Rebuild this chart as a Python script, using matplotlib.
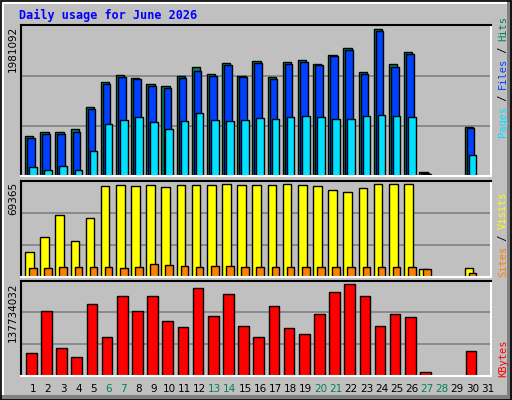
import matplotlib
matplotlib.use("Agg")
import matplotlib.pyplot as plt
from matplotlib.patches import Rectangle
import numpy as np

days = list(range(1, 32))
hits = [529600, 581900, 581900, 621200, 908900, 1235800, 1327300, 1288100, 1209600, 1183500,
        1314200, 1431900, 1340400, 1484200, 1314200, 1510400, 1301200, 1497300, 1523500, 1471200,
        1588900, 1680400, 1366500, 1928900, 1471200, 1628100, 58800, 0, 0, 647300, 0]
files = [503500, 555800, 555800, 581900, 882700, 1209600, 1301200, 1275000, 1183500, 1157300,
         1288100, 1379600, 1314200, 1458100, 1301200, 1484200, 1275000, 1471200, 1497300, 1458100,
         1575800, 1654200, 1340400, 1902700, 1431900, 1601900, 45800, 0, 0, 634200, 0]
pages = [124200, 85000, 137300, 85000, 333500, 686500, 738900, 778100, 712700, 621200,
         725800, 830400, 738900, 725800, 738900, 765000, 751900, 778100, 791200, 778100,
         751900, 751900, 791200, 804200, 791200, 778100, 32700, 0, 0, 281200, 0]
visits = [17640, 28520, 44470, 25620, 42300, 65500, 66220, 65500, 66220, 64770,
          66220, 66220, 66220, 66950, 66220, 66220, 66220, 66950, 66220, 65500,
          62600, 61150, 64050, 66950, 66950, 66950, 5320, 0, 0, 6040, 0]
sites = [6040, 6040, 6770, 6770, 6770, 6770, 6040, 6770, 8940, 8220,
         7490, 6770, 7490, 7490, 6770, 6770, 6770, 6770, 6770, 6770,
         6770, 6770, 6770, 6770, 6770, 6770, 5320, 0, 0, 2420, 0]
kbytes = [32.38, 93.27, 39.63, 26.58, 103.42, 55.58, 115.02, 93.27, 115.02, 78.77,
          70.08, 126.62, 86.02, 117.92, 71.52, 55.58, 100.52, 68.63, 59.93, 88.92,
          120.82, 132.42, 115.02, 71.52, 88.92, 84.57, 4.83, 0, 0, 35.28, 0]
kbytes = [v * 1e6 for v in kbytes]
weekend = [6, 7, 13, 14, 20, 21, 27, 28]
max_hits = 1981092
max_visits = 69365
max_kbytes = 137734032
title = "Daily usage for June 2026"

BG = "#C0C0C0"
C_HITS, C_FILES, C_PAGES = "#00805C", "#0040FF", "#00E0FF"
C_VISITS, C_SITES, C_KB = "#FFFF00", "#FF8000", "#FF0000"
W, H = 512, 400

fig = plt.figure(figsize=(W / 100, H / 100), dpi=100, facecolor=BG)

def fx(px): return px / W
def fy(py): return 1 - py / H

# frame
fig.patches.append(Rectangle((0, 0), 1, 1, transform=fig.transFigure, fc=BG, ec="none", zorder=-10))
fig.patches.append(Rectangle((fx(507), 0), fx(5), 1, transform=fig.transFigure, fc="#808080", ec="none", zorder=-9))
fig.patches.append(Rectangle((0, 0), 1, 5 / H, transform=fig.transFigure, fc="#808080", ec="none", zorder=-9))
fig.patches.append(Rectangle((fx(1), fy(4)), fx(506), 3 / H, transform=fig.transFigure, fc="white", ec="none", zorder=-8))
fig.patches.append(Rectangle((fx(1), fy(395)), fx(3), 391 / H, transform=fig.transFigure, fc="white", ec="none", zorder=-8))
fig.patches.append(Rectangle((0.001, 0.001), 0.998, 0.997, transform=fig.transFigure, fc="none", ec="black", lw=1.2, zorder=5))

x0, x1 = 20.7, 490.7
def make_ax(ytop, ybot, ymax):
    ax = fig.add_axes([fx(x0), fy(ybot), fx(x1 - x0), (ybot - ytop) / H])
    ax.set_facecolor(BG)
    ax.set_xlim(0.3, 31.3)
    ax.set_ylim(0, ymax)
    for v in (ymax / 3, 2 * ymax / 3):
        ax.axhline(v, color="#808080", lw=1.2, zorder=0)
    ax.set_xticks([]); ax.set_yticks([])
    ax.spines["top"].set_color("black"); ax.spines["left"].set_color("black")
    ax.spines["bottom"].set_color("white"); ax.spines["right"].set_color("white")
    for s in ax.spines.values(): s.set_linewidth(1.5)
    return ax

def bars(ax, vals, off, width, color):
    d = [x + off for x, v in zip(days, vals) if v > 0]
    h = [v for v in vals if v > 0]
    ax.bar(d, h, width=width, color=color, edgecolor="black", linewidth=1.0, zorder=2)

ax1 = make_ax(25, 176.5, max_hits)
bars(ax1, hits, -0.14, 0.55, C_HITS)
bars(ax1, files, -0.03, 0.5, C_FILES)
bars(ax1, pages, 0.1, 0.5, C_PAGES)

ax2 = make_ax(181, 276.7, max_visits)
bars(ax2, visits, -0.13, 0.57, C_VISITS)
bars(ax2, sites, 0.1, 0.5, C_SITES)

ax3 = make_ax(280.7, 375.7, max_kbytes)
bars(ax3, kbytes, 0.0, 0.7, C_KB)

# day labels
for d in days:
    ax3.text(d + 0.1, -0.14, str(d), transform=ax3.get_xaxis_transform(), ha="center", va="center",
             fontsize=7.5, family="DejaVu Sans", color=C_HITS if d in weekend else "black")

# y max labels
for ytop, lab in ((26, str(max_hits)), (182, str(max_visits)), (282, str(max_kbytes))):
    fig.text(fx(13), fy(ytop), lab, rotation=90, ha="center", va="top", fontsize=7.5, family="DejaVu Sans")

# title
fig.text(fx(19), fy(15), title, ha="left", va="center", fontsize=8.5, weight="bold",
         family="DejaVu Sans Mono", color="#0000FF")

# right labels (rotated, built bottom-to-top)
def right_label(ybottom, parts):
    cw = 6.0
    y = ybottom
    for txt, col in parts:
        fig.text(fx(503), fy(y), txt, rotation=90, ha="center", va="bottom", fontsize=7.5,
                 family="DejaVu Sans Mono", color=col)
        y -= cw * len(txt)

right_label(137, [("Pages", C_PAGES), (" / ", "black"), ("Files", C_FILES), (" / ", "black"), ("Hits", C_HITS)])
right_label(277, [("Sites", C_SITES), (" / ", "black"), ("Visits", C_VISITS)])
right_label(377, [("KBytes", C_KB)])

fig.savefig("out.png", dpi=100, facecolor=BG)
